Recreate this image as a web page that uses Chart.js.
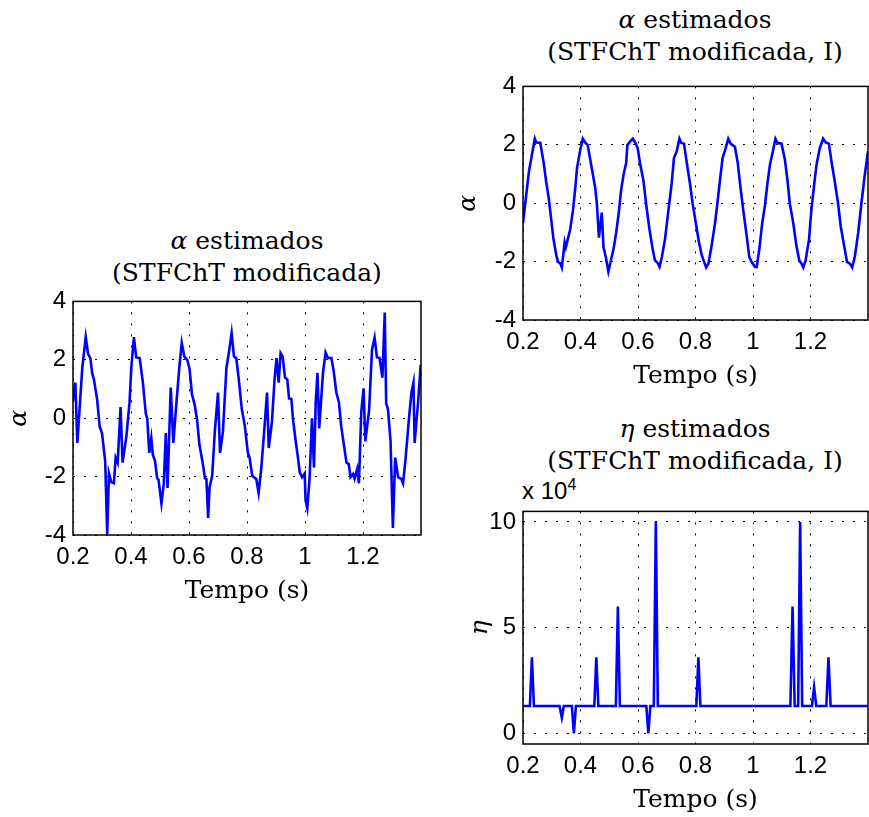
<!DOCTYPE html>
<html>
<head>
<meta charset="utf-8">
<script src="https://cdn.jsdelivr.net/npm/chart.js@4.4.0/dist/chart.umd.min.js"></script>
<style>
  body { margin: 0; background: #fff; }
  #page { position: relative; width: 869px; height: 817px; overflow: hidden; }
  .box { position: absolute; }
  .ttl {
    position: absolute; transform: translateX(-50%); white-space: nowrap;
    font-family: 'DejaVu Serif', serif; font-size: 25px; line-height: 32px;
    text-align: center; color: #000;
  }
  .mult { position: absolute; font-family: 'Liberation Sans', Arial, sans-serif; font-size: 24px; color: #000; }
  .mult sup { font-size: 16px; }
</style>
</head>
<body>
<div id="page">
  <div class="ttl" style="left:247px; top:225px;"><i>α</i> estimados<br>(STFChT modificada)</div>
  <div class="ttl" style="left:695px; top:4px;"><i>α</i> estimados<br>(STFChT modificada, I)</div>
  <div class="ttl" style="left:695px; top:413px;"><i>η</i> estimados<br>(STFChT modificada, I)</div>
  <div class="mult" style="left:522px; top:476px;">x 10<sup>4</sup></div>

  <div class="box" style="left:0px; top:280px;"><canvas id="alphaChart" width="440" height="330"></canvas></div>
  <div class="box" style="left:440px; top:65px;"><canvas id="alphaIChart" width="429" height="335"></canvas></div>
  <div class="box" style="left:440px; top:490px;"><canvas id="etaChart" width="429" height="327"></canvas></div>
</div>

<script>
// ===== TICKS =====
const xTicks = [0.2, 0.4, 0.6, 0.8, 1, 1.2];
const alphaTicks = [-4, -2, 0, 2, 4];
const etaTicks = [0, 5, 10];

// ===== alpha estimados (STFChT modificada) =====
const alphaT = [0.200, 0.208, 0.215, 0.232, 0.244, 0.252, 0.260, 0.266, 0.272, 0.283, 0.292, 0.300,
  0.311, 0.318, 0.324, 0.332, 0.341, 0.347, 0.354, 0.364, 0.371, 0.384, 0.395, 0.401, 0.410, 0.418,
  0.430, 0.441, 0.451, 0.456, 0.463, 0.470, 0.475, 0.483, 0.490, 0.495, 0.505, 0.513, 0.520, 0.526,
  0.537, 0.546, 0.556, 0.566, 0.575, 0.584, 0.594, 0.602, 0.610, 0.620, 0.628, 0.636, 0.647, 0.655,
  0.660, 0.666, 0.671, 0.680, 0.689, 0.700, 0.707, 0.717, 0.729, 0.738, 0.747, 0.755, 0.763, 0.771,
  0.782, 0.792, 0.803, 0.809, 0.818, 0.832, 0.840, 0.849, 0.861, 0.869, 0.875, 0.886, 0.895, 0.902,
  0.909, 0.916, 0.923, 0.931, 0.939, 0.945, 0.953, 0.959, 0.968, 0.975, 0.982, 0.990, 0.999, 1.002,
  1.008, 1.016, 1.024, 1.031, 1.037, 1.043, 1.049, 1.062, 1.071, 1.079, 1.091, 1.099, 1.108, 1.117,
  1.125, 1.134, 1.143, 1.151, 1.157, 1.166, 1.171, 1.180, 1.186, 1.194, 1.202, 1.208, 1.221, 1.231,
  1.240, 1.248, 1.257, 1.267, 1.275, 1.280, 1.286, 1.295, 1.303, 1.311, 1.321, 1.332, 1.338, 1.346,
  1.359, 1.367, 1.374, 1.378, 1.390, 1.399];
const alphaV = [0.60, 1.22, -0.85, 1.72, 2.78, 2.20, 2.05, 1.55, 1.33, 0.66, -0.29, -0.51,
  -1.47, -3.98, -1.89, -2.19, -2.23, -1.35, -1.52, 0.38, -1.52, -0.63, 0.55, 1.72, 2.78, 2.08,
  2.06, 1.22, 0.16, -0.01, -1.19, -0.68, -1.24, -1.47, -2.05, -2.11, -2.92, -2.25, -0.51, -2.39,
  1.05, -0.85, 0.44, 1.67, 2.58, 2.11, 2.00, 1.69, 0.83, 0.44, -0.07, -0.91, -1.52, -2.06,
  -2.08, -3.42, -2.36, -1.97, -0.46, 0.88, -1.19, -0.46, 1.72, 2.28, 2.92, 2.11, 2.06, 1.39,
  0.32, -0.23, -1.19, -1.35, -1.97, -2.08, -2.56, -1.74, -0.23, 0.88, -1.02, -0.12, 1.33, 2.06,
  1.22, 2.23, 2.11, 1.39, 1.33, 0.68, 0.66, -0.07, -0.79, -1.30, -1.86, -2.02, -1.89, -2.81,
  -3.09, -2.02, 0.00, -1.69, 0.55, 1.55, -0.35, 1.55, 2.25, 2.06, 2.06, 1.61, 0.88, 0.55,
  -0.29, -0.91, -1.52, -1.58, -2.02, -1.91, -2.08, -1.74, -2.23, 0.21, 1.02, -0.79, 0.27, 2.34,
  2.76, 2.09, 2.06, 1.39, 3.62, 0.49, 0.32, -0.79, -3.76, -1.35, -2.02, -2.08, -2.23, -1.47,
  0.04, 0.88, 1.22, -0.85, 0.55, 1.83];

// ===== alpha estimados (STFChT modificada, I) =====
const alphaIT = [0.200, 0.220, 0.231, 0.241, 0.246, 0.260, 0.272, 0.281, 0.289, 0.297, 0.306, 0.316,
  0.322, 0.330, 0.335, 0.345, 0.349, 0.364, 0.374, 0.382, 0.388, 0.399, 0.408, 0.416, 0.425, 0.434,
  0.451, 0.457, 0.464, 0.474, 0.480, 0.488, 0.497, 0.507, 0.515, 0.524, 0.533, 0.541, 0.550, 0.559,
  0.563, 0.573, 0.582, 0.590, 0.599, 0.607, 0.619, 0.628, 0.640, 0.651, 0.659, 0.668, 0.675, 0.683,
  0.694, 0.706, 0.717, 0.725, 0.735, 0.744, 0.750, 0.760, 0.769, 0.781, 0.790, 0.802, 0.812, 0.822,
  0.830, 0.837, 0.845, 0.856, 0.868, 0.876, 0.885, 0.894, 0.903, 0.914, 0.922, 0.937, 0.947, 0.955,
  0.966, 0.978, 0.987, 0.995, 1.007, 1.013, 1.022, 1.032, 1.041, 1.050, 1.059, 1.070, 1.078, 1.085,
  1.099, 1.111, 1.120, 1.128, 1.140, 1.151, 1.161, 1.169, 1.175, 1.183, 1.195, 1.203, 1.213, 1.221,
  1.232, 1.244, 1.253, 1.264, 1.273, 1.284, 1.296, 1.305, 1.317, 1.327, 1.337, 1.345, 1.354, 1.366,
  1.377, 1.389, 1.400];
const alphaIV = [-0.68, 1.04, 1.66, 2.21, 2.08, 2.07, 1.38, 0.71, 0.21, -0.46, -1.23, -1.79,
  -2.01, -2.07, -2.20, -1.34, -1.51, -0.90, -0.23, 0.54, 1.21, 1.82, 2.21, 2.08, 1.99, 1.49,
  0.54, -0.01, -1.18, -0.32, -1.51, -1.84, -2.34, -1.90, -1.57, -1.01, -0.34, 0.43, 0.99, 1.38,
  1.99, 2.12, 2.21, 2.08, 1.88, 1.38, 0.77, -0.01, -0.90, -1.57, -1.96, -2.04, -2.18, -1.84,
  -1.23, -0.23, 0.66, 1.54, 1.79, 2.21, 2.07, 2.04, 1.43, 0.66, -0.01, -0.73, -1.34, -1.79,
  -2.01, -2.20, -2.07, -1.46, -0.68, -0.01, 0.77, 1.54, 1.82, 2.21, 2.04, 1.93, 1.38, 0.66,
  -0.23, -1.12, -1.84, -2.01, -2.18, -2.18, -1.57, -0.68, -0.12, 0.66, 1.32, 1.82, 2.21, 2.07,
  2.04, 1.49, 0.77, -0.01, -0.68, -1.46, -1.96, -2.07, -2.20, -1.96, -1.23, -0.23, 0.66, 1.32,
  1.88, 2.21, 2.08, 2.04, 1.43, 0.77, -0.01, -0.79, -1.46, -2.01, -2.07, -2.20, -1.84, -1.01,
  -0.01, 0.99, 1.77];

// ===== eta estimados (x 10^4) =====
const etaT = [0.200, 0.224, 0.231, 0.238, 0.327, 0.335, 0.342, 0.370, 0.377, 0.384, 0.448, 0.455,
  0.462, 0.523, 0.530, 0.537, 0.629, 0.636, 0.643, 0.655, 0.662, 0.669, 0.803, 0.810, 0.817, 1.130,
  1.1375, 1.145, 1.157, 1.164, 1.171, 1.205, 1.2125, 1.220, 1.255, 1.2625, 1.270, 1.400];
const etaV = [1.3, 1.3, 3.6, 1.3, 1.3, 0.75, 1.3, 1.3, 0, 1.3, 1.3, 3.6,
  1.3, 1.3, 6.0, 1.3, 1.3, 0, 1.3, 1.3, 10, 1.3, 1.3, 3.6, 1.3, 1.3,
  6.0, 1.3, 1.3, 10, 1.3, 1.3, 2.18, 1.3, 1.3, 3.6, 1.3, 1.3];

// ===== AXES FRAME =====
const frame = {
  id: 'frame',
  afterDraw(chart) {
    const { ctx, chartArea: a } = chart;
    ctx.save();
    ctx.strokeStyle = '#000';
    ctx.lineWidth = 1.5;
    ctx.strokeRect(a.left, a.top, a.right - a.left, a.bottom - a.top);
    ctx.restore();
  }
};

const tickFont = { family: "'Liberation Sans', Arial, sans-serif", size: 24 };
const labelFont = { family: "'DejaVu Serif', serif", size: 25 };

// box = canvas position on the page, plot = wanted axes rectangle on the page
function makePlot(id, box, plot, xs, ys, yTicks, yMin, yMax, yLabel, yLabelX) {
  const points = xs.map((t, i) => ({ x: t, y: ys[i] }));
  const bottomSpace = box.top + box.height - plot.bottom;

  return new Chart(document.getElementById(id), {
    type: 'line',
    data: {
      datasets: [{
        data: points,
        borderColor: '#0000ff',
        borderWidth: 2.6,
        pointRadius: 0,
        tension: 0,
        fill: false
      }]
    },
    options: {
      responsive: false,
      animation: false,
      devicePixelRatio: 1,
      layout: {
        padding: { top: plot.top - box.top, right: box.left + box.width - plot.right, left: 0, bottom: 0 }
      },
      plugins: {
        legend: { display: false },
        tooltip: { enabled: false }
      },
      scales: {
        x: {
          type: 'linear',
          min: 0.2,
          max: 1.4,
          afterBuildTicks: s => { s.ticks = xTicks.map(v => ({ value: v })); },
          afterFit: s => { s.height = bottomSpace; },
          grid: { color: '#000', lineWidth: 1, drawTicks: false },
          border: { display: false, dash: [2, 9] },
          ticks: { padding: 8, color: '#000', font: tickFont, maxRotation: 0, autoSkip: false, callback: v => String(v) },
          title: {
            display: true, text: 'Tempo (s)', color: '#000', font: labelFont,
            padding: { top: 0, bottom: bottomSpace - 56 - 15 }
          }
        },
        y: {
          min: yMin,
          max: yMax,
          afterBuildTicks: s => { s.ticks = yTicks.map(v => ({ value: v })); },
          afterFit: s => { s.width = plot.left - box.left; },
          grid: { color: '#000', lineWidth: 1, drawTicks: false },
          border: { display: false, dash: [2, 9] },
          ticks: { padding: 7, color: '#000', font: tickFont, callback: v => String(v) },
          title: {
            display: true, text: yLabel, color: '#000',
            font: { family: "'DejaVu Serif', serif", size: 25, style: 'italic' },
            padding: { top: yLabelX - box.left - 15, bottom: 0 }
          }
        }
      }
    },
    plugins: [frame]
  });
}

makePlot('alphaChart',
  { left: 0, top: 280, width: 440, height: 330 },
  { left: 73, top: 296, right: 421, bottom: 535 },
  alphaT, alphaV, alphaTicks, -4, 4, 'α', 19);

makePlot('alphaIChart',
  { left: 440, top: 65, width: 429, height: 335 },
  { left: 523, top: 81, right: 868, bottom: 320 },
  alphaIT, alphaIV, alphaTicks, -4, 4, 'α', 468);

makePlot('etaChart',
  { left: 440, top: 490, width: 429, height: 327 },
  { left: 523, top: 504, right: 868, bottom: 744 },
  etaT, etaV, etaTicks, -0.5, 10.5, 'η', 480);
</script>
</body>
</html>
